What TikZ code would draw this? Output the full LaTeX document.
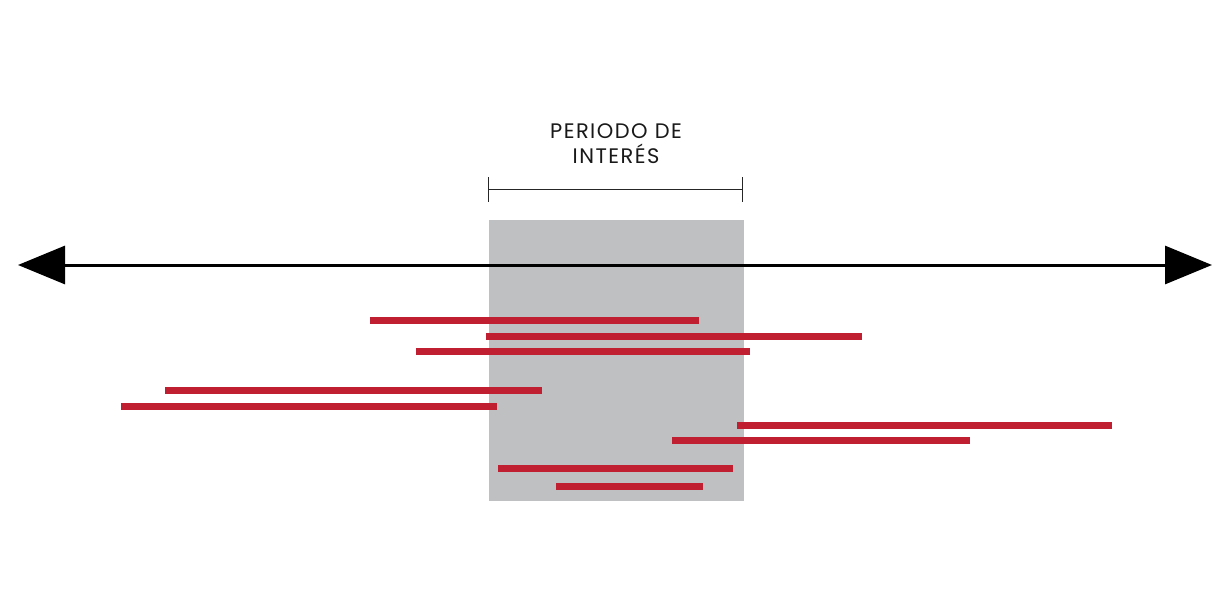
\documentclass[tikz,border=0pt]{standalone}
\usepackage{fontspec}
\setmainfont{Poppins}
\newfontfamily\lblfont[LetterSpace=7]{Poppins}
\usetikzlibrary{arrows.meta}
\definecolor{barred}{HTML}{C01F32}
\definecolor{boxgray}{HTML}{BFC0C2}
\begin{document}
\begin{tikzpicture}[x=1pt,y=-1pt,
  bar/.style={draw=barred,line width=7pt},
  axisline/.style={draw=black,line width=3pt,{Triangle[length=47pt,width=38pt]}-{Triangle[length=47pt,width=38pt]}},
  bracketline/.style={draw=black!85,line width=1.1pt},
  lbl/.style={font=\lblfont\fontsize{21}{25}\selectfont,align=center,text=black!90}]
\useasboundingbox (0,0) rectangle (1231,596);
% period of interest box
\fill[boxgray] (489,220) rectangle (744,501);
% axis
\coordinate (axL) at (18,265);
\coordinate (axR) at (1212,265);
\draw[axisline] (axL) -- (axR);
% bracket
\coordinate (brL) at (488.5,189.5);
\coordinate (brR) at (742.5,189.5);
\draw[bracketline] (brL) -- (brR);
\draw[bracketline] ([yshift=-12.5pt]brL) -- ([yshift=12.5pt]brL);
\draw[bracketline] ([yshift=-12.5pt]brR) -- ([yshift=12.5pt]brR);
\node[lbl] (label) at (616,144) {PERIODO DE\\INTERÉS};
% bars
\draw[bar] (370,320.5) -- (699,320.5);
\draw[bar] (486,336) -- (862,336);
\draw[bar] (416,351.5) -- (750,351.5);
\draw[bar] (165,390) -- (542,390);
\draw[bar] (121,406.5) -- (497,406.5);
\draw[bar] (737,425.5) -- (1112,425.5);
\draw[bar] (672,440.5) -- (970,440.5);
\draw[bar] (498,468.5) -- (733,468.5);
\draw[bar] (556,486.5) -- (703,486.5);
\end{tikzpicture}
\end{document}
